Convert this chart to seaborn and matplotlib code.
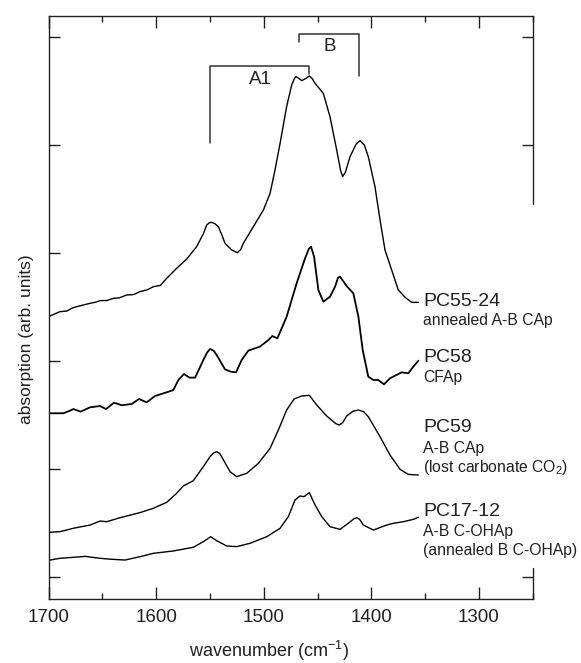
import numpy as np
import pandas as pd
import seaborn as sns
import matplotlib.pyplot as plt
from matplotlib.ticker import MultipleLocator

# spectra (wavenumber, stacked absorption in tick units)
pc55_x = [1698.6, 1689.3, 1683.1, 1678.0, 1673.8, 1667.0, 1661.4, 1656.0, 1652.1, 1646.0, 1639.7,
          1634.0, 1627.4, 1621.0, 1615.0, 1608.0, 1602.6, 1596.0, 1590.2, 1580.9, 1571.6, 1562.3,
          1556.0, 1553.0, 1550.5, 1548.4, 1545.5, 1542.2, 1539.0, 1536.0, 1529.8, 1524.5, 1521.5,
          1518.9, 1509.6, 1500.3, 1494.1, 1489.5, 1484.8, 1478.7, 1474.0, 1471.5, 1470.0, 1467.5,
          1464.7, 1461.0, 1457.6, 1455.0, 1452.3, 1444.6, 1438.4, 1432.2, 1428.5, 1426.6, 1424.0,
          1419.8, 1414.0, 1410.5, 1406.5, 1402.8, 1396.6, 1391.9, 1387.3, 1381.1, 1374.9, 1368.7,
          1362.5, 1356.3]
pc55_y = [2.417, 2.457, 2.462, 2.490, 2.503, 2.520, 2.534, 2.545, 2.559, 2.560, 2.580,
          2.585, 2.611, 2.615, 2.642, 2.660, 2.688, 2.700, 2.765, 2.858, 2.944, 3.059,
          3.180, 3.259, 3.280, 3.284, 3.272, 3.244, 3.170, 3.090, 3.028, 3.003, 3.030,
          3.090, 3.244, 3.398, 3.552, 3.769, 4.015, 4.355, 4.556, 4.615, 4.633, 4.618,
          4.596, 4.615, 4.639, 4.615, 4.571, 4.478, 4.262, 3.954, 3.760, 3.707, 3.750,
          3.892, 4.010, 4.040, 4.000, 3.892, 3.614, 3.306, 3.028, 2.843, 2.657, 2.590,
          2.543, 2.543]

pc58_x = [1698.6, 1686.2, 1680.0, 1676.9, 1670.1, 1661.4, 1652.1, 1646.6, 1639.1, 1632.0, 1622.7,
          1615.9, 1608.8, 1601.0, 1590.2, 1584.0, 1579.3, 1574.1, 1569.1, 1563.8, 1556.1, 1552.5,
          1549.9, 1546.5, 1543.7, 1536.0, 1530.7, 1525.7, 1520.5, 1514.3, 1503.5, 1495.7, 1492.0,
          1487.3, 1478.7, 1469.4, 1461.6, 1458.0, 1456.0, 1453.2, 1449.2, 1444.6, 1438.4, 1433.7,
          1431.0, 1429.1, 1422.9, 1416.7, 1412.0, 1408.0, 1402.8, 1398.1, 1393.5, 1388.2, 1382.6,
          1371.8, 1365.6, 1360.9, 1356.3]
pc58_y = [1.516, 1.516, 1.540, 1.555, 1.531, 1.571, 1.583, 1.555, 1.614, 1.590, 1.602,
          1.648, 1.617, 1.676, 1.710, 1.731, 1.824, 1.880, 1.846, 1.846, 2.009, 2.080,
          2.111, 2.095, 2.055, 1.923, 1.901, 1.895, 2.009, 2.096, 2.133, 2.194, 2.231,
          2.210, 2.410, 2.719, 2.950, 3.040, 3.058, 2.966, 2.657, 2.549, 2.595, 2.688,
          2.770, 2.781, 2.694, 2.626, 2.410, 2.101, 1.855, 1.824, 1.824, 1.784, 1.840,
          1.895, 1.886, 1.948, 2.003]

pc59_x = [1698.6, 1689.3, 1676.9, 1661.4, 1652.1, 1645.9, 1633.5, 1615.0, 1602.6, 1590.2, 1580.9,
          1574.7, 1565.4, 1556.1, 1549.9, 1546.5, 1543.7, 1541.0, 1539.1, 1531.3, 1525.1, 1515.8,
          1505.0, 1494.1, 1486.4, 1478.7, 1471.8, 1464.7, 1457.6, 1450.7, 1441.5, 1433.0, 1430.0,
          1426.5, 1422.9, 1417.0, 1412.0, 1407.0, 1402.8, 1391.9, 1382.6, 1373.3, 1365.6, 1356.3]
pc59_y = [0.414, 0.420, 0.451, 0.481, 0.518, 0.512, 0.549, 0.596, 0.636, 0.691, 0.775,
          0.843, 0.892, 1.022, 1.114, 1.150, 1.160, 1.145, 1.114, 0.975, 0.929, 0.960,
          1.052, 1.191, 1.361, 1.546, 1.648, 1.676, 1.682, 1.592, 1.491, 1.420, 1.407,
          1.430, 1.491, 1.535, 1.546, 1.530, 1.484, 1.299, 1.129, 0.997, 0.950, 0.944]

pc17_x = [1698.6, 1689.3, 1676.9, 1666.1, 1652.1, 1641.3, 1628.9, 1615.0, 1602.6, 1584.0, 1565.4,
          1556.1, 1549.3, 1543.7, 1534.4, 1525.1, 1512.7, 1497.2, 1484.8, 1477.1, 1470.9, 1466.3,
          1462.5, 1457.6, 1452.3, 1446.1, 1438.4, 1429.1, 1421.5, 1416.0, 1413.6, 1411.0, 1407.4,
          1398.1, 1385.7, 1379.5, 1370.2, 1360.9, 1356.3]
pc17_y = [0.157, 0.173, 0.182, 0.191, 0.173, 0.164, 0.157, 0.188, 0.219, 0.241, 0.275,
          0.327, 0.373, 0.336, 0.287, 0.281, 0.312, 0.373, 0.451, 0.559, 0.713, 0.750,
          0.744, 0.781, 0.667, 0.559, 0.466, 0.441, 0.497, 0.540, 0.549, 0.535, 0.481,
          0.435, 0.481, 0.497, 0.512, 0.534, 0.552]

samples = ['PC55-24', 'PC58', 'PC59', 'PC17-12']
descriptions = [['annealed A-B CAp'],
                ['CFAp'],
                ['A-B CAp', '(lost carbonate CO$_2$)'],
                ['A-B C-OHAp', '(annealed B C-OHAp)']]

sns.set_style('ticks')
plt.rcParams['font.family'] = ['Liberation Sans', 'DejaVu Sans']
plt.rcParams['mathtext.fontset'] = 'custom'
plt.rcParams['mathtext.rm'] = 'Liberation Sans'
plt.rcParams['mathtext.it'] = 'Liberation Sans:italic'

ink = '#231f20'

fig = plt.figure(figsize=(5.81, 6.63), dpi=100)
ax = fig.add_axes([0.0835, 0.0965, 0.8334, 0.8798])

series = [(pc55_x, pc55_y), (pc58_x, pc58_y), (pc59_x, pc59_y), (pc17_x, pc17_y)]
df = pd.concat([pd.DataFrame({'wavenumber': xs, 'absorption': ys, 'sample': s})
                for s, (xs, ys) in zip(samples, series)])

for s in samples:
    sns.lineplot(data=df[df['sample'] == s], x='wavenumber', y='absorption',
                 sort=False, estimator=None, color='black',
                 lw=1.3 if s == 'PC58' else 1.0, ax=ax)

# sample labels next to the line ends
label_y = [2.548, 2.034, 1.386, 0.604]
sub_y = [[2.373], [1.849], [1.194, 1.016], [0.419, 0.243]]
for name, ly, descs, sys_ in zip(samples, label_y, descriptions, sub_y):
    ax.text(1351.7, ly, name, fontsize=14, color=ink, ha='left', va='center', clip_on=False)
    for d, dy in zip(descs, sys_):
        ax.text(1351.7, dy, d, fontsize=11.3, color=ink, ha='left', va='center', clip_on=False)

# band assignment brackets
ax.plot([1550, 1550, 1458, 1458], [4.02, 4.736, 4.736, 4.657], color='#333333', lw=1.1)
ax.plot([1467.5, 1467.5, 1411.4, 1411.4], [4.95, 5.03, 5.03, 4.64], color='#333333', lw=1.1)
ax.text(1503, 4.61, 'A1', fontsize=13.5, color=ink, ha='center', va='center')
ax.text(1439, 4.91, 'B', fontsize=13.5, color=ink, ha='center', va='center')

ax.set_xlim(1700, 1250)
ax.set_ylim(-0.204, 5.197)
ax.set_xticks([1700, 1600, 1500, 1400, 1300])
ax.xaxis.set_minor_locator(MultipleLocator(50))
ax.set_yticks(range(6))
ax.set_yticklabels([])

ax.tick_params(axis='x', which='major', direction='in', length=8.5, width=1, top=True,
               labelsize=13.5, pad=7, colors=ink)
ax.tick_params(axis='x', which='minor', direction='in', length=4.3, width=1, top=True, colors=ink)
ax.tick_params(axis='y', direction='in', length=8, width=1, left=True, right=False, colors=ink)

for side in ['left', 'top', 'bottom']:
    ax.spines[side].set_color(ink)
    ax.spines[side].set_linewidth(1.0)
ax.spines['right'].set_visible(False)
# right frame is broken where the labels sit
ax.axvline(1250, 0.678, 1.0, color=ink, lw=1.0, clip_on=False)
ax.axvline(1250, 0.0, 0.054, color=ink, lw=1.0, clip_on=False)

sec = ax.secondary_yaxis('right')
sec.set_yticks([0, 4, 5])
sec.tick_params(direction='in', length=8, width=1, labelright=False, colors=ink)
sec.spines['right'].set_visible(False)

ax.set_xlabel('wavenumber (cm$^{-1}$)', fontsize=13, color=ink)
ax.xaxis.set_label_coords(0.456, -0.068)
ax.set_ylabel('absorption (arb. units)', fontsize=12.5, color=ink)
ax.yaxis.set_label_coords(-0.03, 0.445)

fig.savefig('out.png', dpi=100)
